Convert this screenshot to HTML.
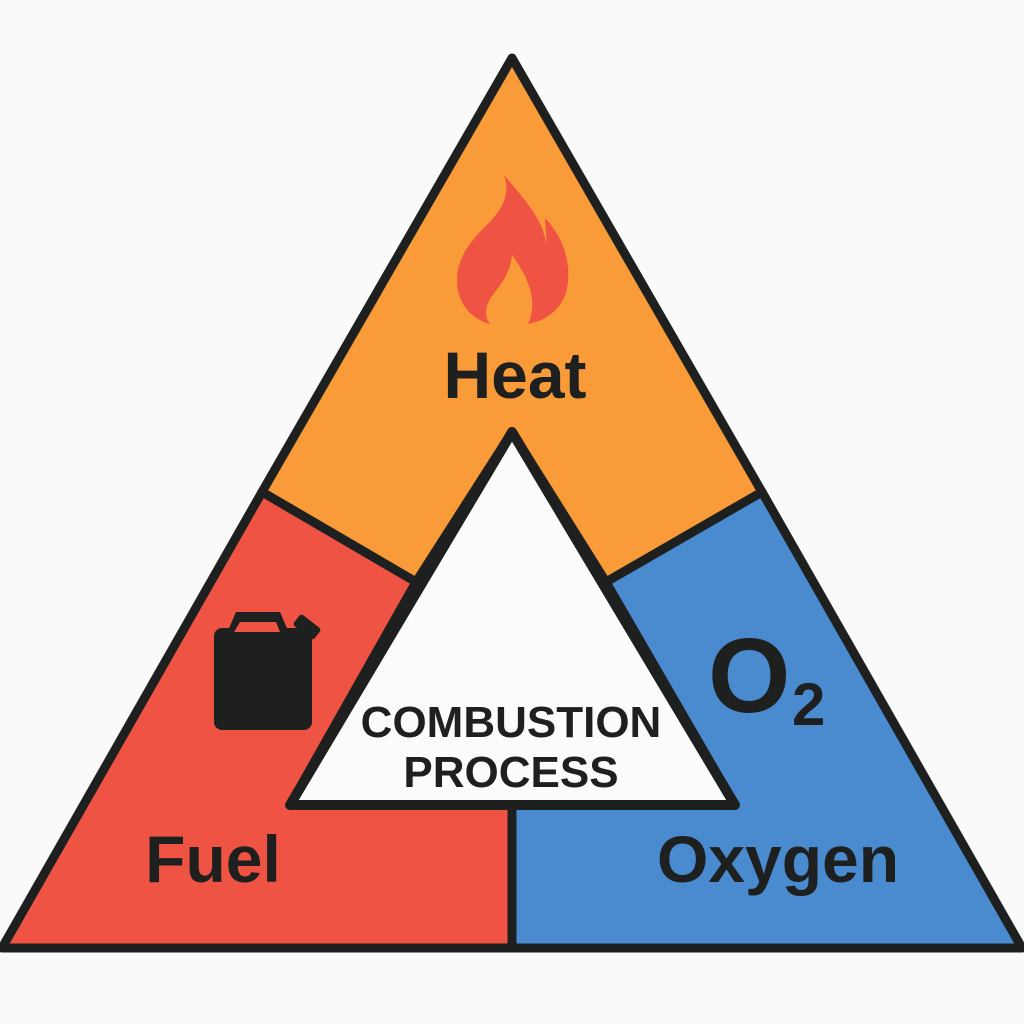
<!DOCTYPE html>
<html><head><meta charset="utf-8"><style>
html,body{margin:0;padding:0;background:#fafafa;}
svg{display:block;}
text{font-family:"Liberation Sans",Arial,sans-serif;font-weight:bold;fill:#1e1f1f;}
</style></head><body>
<svg width="1024" height="1024" viewBox="0 0 1024 1024" xmlns="http://www.w3.org/2000/svg">
<rect width="1024" height="1024" fill="#fafafa"/>
<g stroke="#1e2020" stroke-width="9" stroke-linejoin="round">
<polygon points="512,58 262,492 416,582 512,432 606,582 762,492" fill="#f99b38"/>
<polygon points="262,492 2,948 512,948 512,805 290,805 416,582" fill="#ef5343"/>
<polygon points="762,492 1022,948 512,948 512,805 735,805 606,582" fill="#4a8bd0"/>
</g>
<polygon points="512,432 290,805 735,805" fill="#fbfbfb" stroke="#1e2020" stroke-width="10" stroke-linejoin="round"/>
<!-- flame -->
<path d="M504,175 C525,200 545,222 546,245 C547,235 545,226 545,218 C562,236 570,258 568,282 C566,305 550,320 528,324 C537,305 532,282 512,255 C510,275 500,285 492,296 C485,306 484,316 490,324 C468,318 457,300 457,280 C457,255 475,236 490,222 C505,206 510,190 504,175 Z" fill="#ef5343"/>
<!-- jerrycan -->
<rect x="214" y="628" width="98" height="102" rx="8" fill="#1e1f1f"/>
<path d="M236,612 L280,612 L292,640 L224,640 Z" fill="#1e1f1f"/>
<path d="M240,622 L276,622 L280,632 L234,632 Z" fill="#ef5343"/>
<rect x="294" y="620" width="26" height="14" rx="3" fill="#1e1f1f" transform="rotate(38 307 627)"/>
<text x="515" y="398" font-size="66" text-anchor="middle">Heat</text>
<text x="213" y="882" font-size="66" text-anchor="middle">Fuel</text>
<text x="778" y="882" font-size="66" text-anchor="middle">Oxygen</text>
<text x="708" y="712" font-size="106">O</text>
<text x="792" y="725" font-size="60">2</text>
<text x="511" y="737" font-size="44" text-anchor="middle">COMBUSTION</text>
<text x="511" y="787" font-size="44" text-anchor="middle">PROCESS</text>
</svg>
</body></html>
